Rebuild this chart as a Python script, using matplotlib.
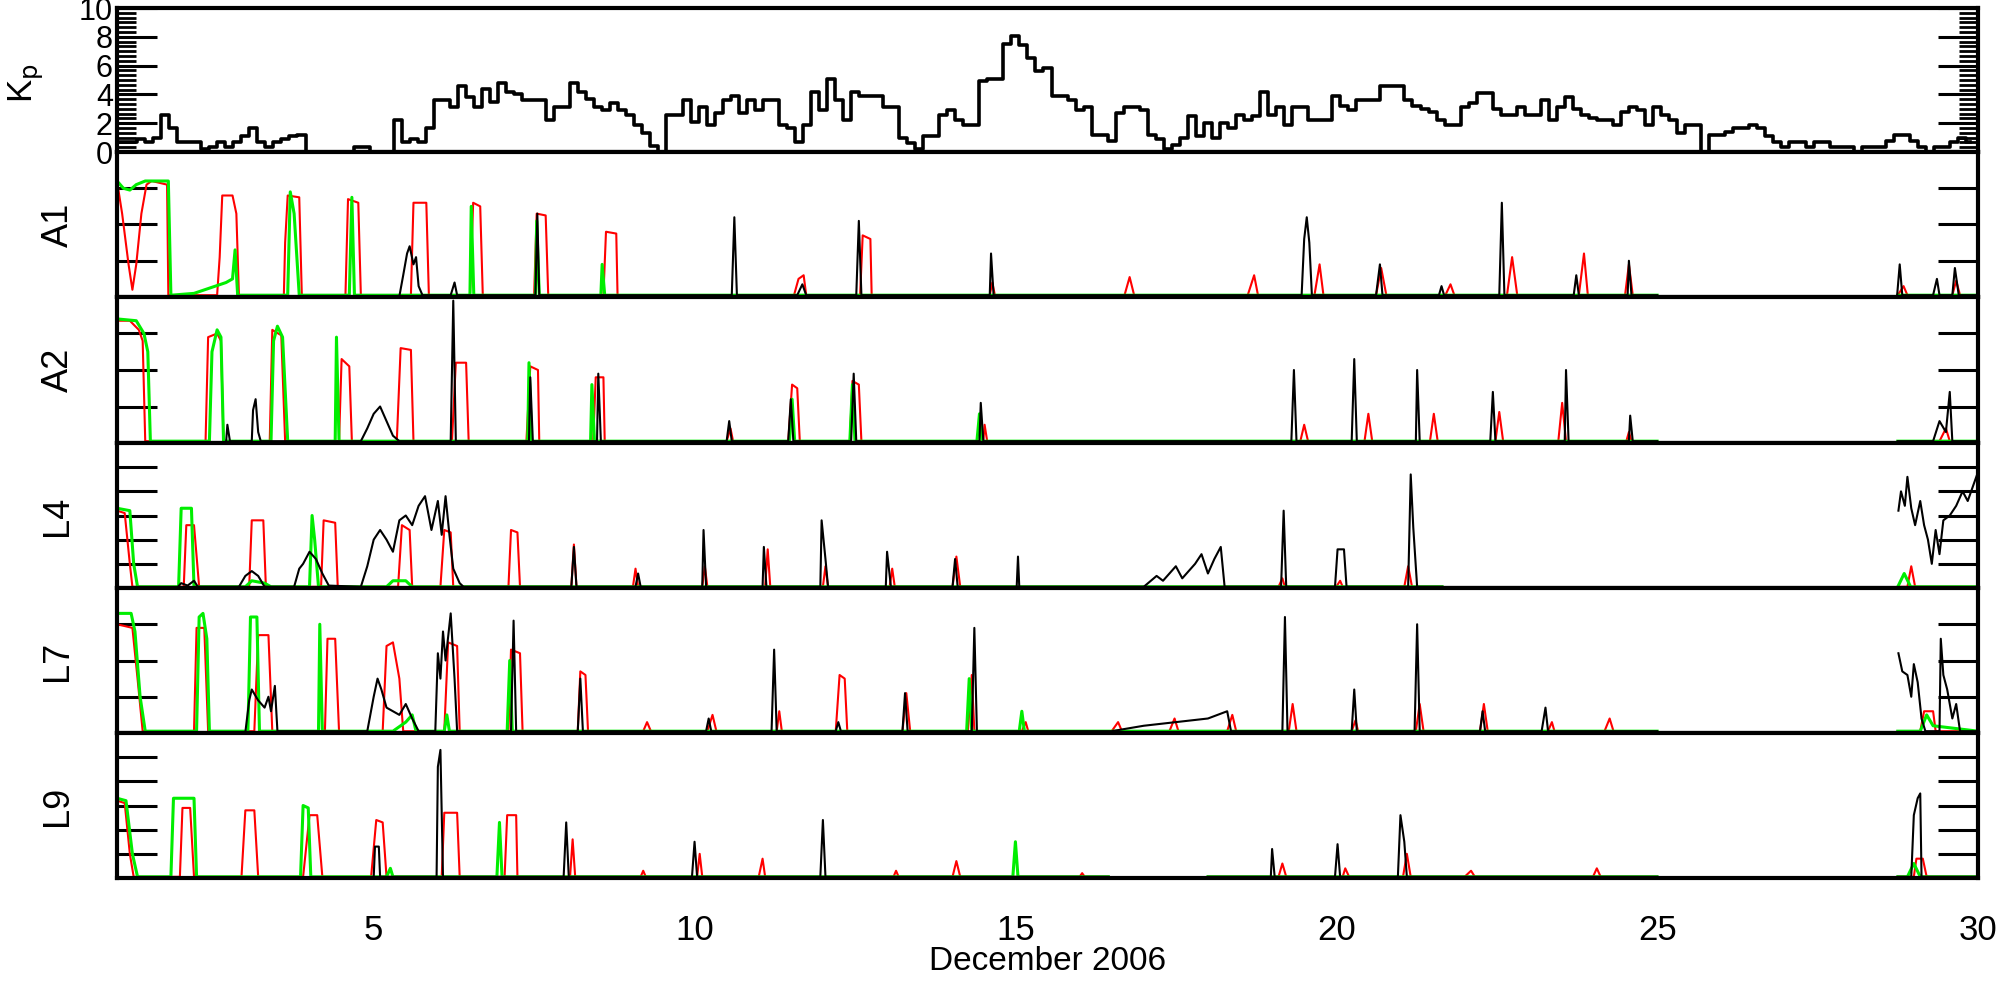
import numpy as np
import matplotlib.pyplot as plt
from matplotlib.ticker import MultipleLocator

plt.rcParams['font.family'] = ['Liberation Sans', 'DejaVu Sans']

nan = np.nan

# 3-hourly Kp, one row per day (1..29 December 2006)
kp = [
    0.67, 0.67, 0.67, 0.9, 0.67, 1.0, 2.56, 1.7,
    0.67, 0.67, 0.67, 0.2, 0.33, 0.67, 0.33, 0.67,
    1.1, 1.7, 0.67, 0.33, 0.67, 0.9, 1.1, 1.2,
    0, 0, 0, 0, 0, 0, 0.33, 0.33,
    0, 0, 0, 2.2, 0.67, 0.9, 0.67, 1.7,
    3.6, 3.6, 3.1, 4.6, 3.8, 3.1, 4.4, 3.5,
    4.8, 4.2, 4.0, 3.6, 3.6, 3.6, 2.2, 3.1,
    3.1, 4.8, 4.2, 3.7, 3.1, 2.9, 3.4, 2.9,
    2.6, 1.9, 1.35, 0.4, 0, 2.6, 2.6, 3.6,
    2.1, 3.1, 1.9, 2.7, 3.6, 3.9, 2.7, 3.6,
    2.9, 3.6, 3.6, 1.9, 1.7, 0.67, 1.9, 4.2,
    2.9, 5.1, 3.6, 2.2, 4.2, 3.9, 3.9, 3.9,
    3.1, 3.1, 1.0, 0.6, 0.2, 1.1, 1.1, 2.56,
    2.9, 2.2, 1.9, 1.9, 4.9, 5.1, 5.1, 7.5,
    8.06, 7.4, 6.5, 5.6, 5.8, 3.9, 3.9, 3.6,
    2.9, 3.1, 1.2, 1.2, 0.76, 2.7, 3.1, 3.1,
    2.9, 1.2, 0.9, 0.2, 0.5, 1.0, 2.5, 1.1,
    2.0, 1.0, 2.0, 1.7, 2.56, 2.2, 2.5, 4.2,
    2.56, 3.1, 1.9, 3.1, 3.1, 2.2, 2.2, 2.2,
    3.9, 3.2, 2.9, 3.6, 3.6, 3.6, 4.6, 4.6,
    4.6, 3.6, 3.2, 3.0, 2.8, 2.2, 1.9, 1.9,
    3.1, 3.4, 4.1, 4.1, 3.0, 2.56, 2.56, 3.1,
    2.56, 2.56, 3.6, 2.2, 3.1, 3.8, 3.0, 2.56,
    2.35, 2.2, 2.2, 1.9, 2.8, 3.1, 2.9, 1.9,
    3.1, 2.56, 2.2, 1.35, 1.9, 1.9, 0, 1.2,
    1.2, 1.4, 1.7, 1.7, 1.9, 1.7, 1.1, 0.67,
    0.33, 0.67, 0.67, 0.33, 0.67, 0.67, 0.33, 0.33,
    0.33, 0, 0.33, 0.33, 0.33, 0.76, 1.2, 1.2,
    0.76, 0.33, 0, 0.33, 0.33, 0.67, 1.0, 0.67,
]

# flux channels: [day, log-flux above background] pairs, nan = data gap
a1_red = [[1.00, 3.2], [1.08, 2.3], [1.18, 0.9], [1.24, 0.2], [1.30, 0.9], [1.38, 2.3], [1.46, 3.1], [1.54, 3.2],
          [1.78, 3.1], [1.80, 0.05], [2.56, 0.05], [2.60, 1.1], [2.64, 2.8], [2.80, 2.8], [2.86, 2.3], [2.90, 0.05],
          [3.60, 0.05], [3.62, 1.5], [3.66, 2.8], [3.84, 2.75], [3.88, 0.05], [4.56, 0.05], [4.60, 2.7], [4.76, 2.6],
          [4.80, 0.05], [5.58, 0.05], [5.62, 2.6], [5.82, 2.6], [5.86, 0.05], [6.50, 0.05], [6.55, 2.6], [6.66, 2.5],
          [6.70, 0.05], [7.50, 0.05], [7.54, 2.3], [7.68, 2.25], [7.72, 0.05], [8.58, 0.05], [8.62, 1.8], [8.78, 1.75],
          [8.80, 0.05], [11.55, 0.05], [11.62, 0.5], [11.70, 0.6], [11.74, 0.05], [12.58, 0.05], [12.62, 1.7],
          [12.74, 1.6], [12.76, 0.05], [14.60, 0.05], [14.64, 0.4], [14.68, 0.05], [16.70, 0.05], [16.78, 0.55],
          [16.85, 0.05], [18.62, 0.05], [18.72, 0.6], [18.78, 0.05], [19.66, 0.05], [19.74, 0.9], [19.80, 0.05],
          [20.62, 0.05], [20.70, 0.8], [20.78, 0.05], [21.70, 0.05], [21.78, 0.35], [21.84, 0.05], [22.66, 0.05],
          [22.74, 1.1], [22.82, 0.05], [23.78, 0.05], [23.86, 1.2], [23.92, 0.05], [24.50, 0.05], [24.56, 0.9],
          [24.62, 0.05], [25.0, 0.05], [25.0, nan], [28.75, 0.05], [28.84, 0.3], [28.90, 0.05], [29.60, 0.05],
          [29.66, 0.45], [29.72, 0.05], [30.0, 0.05]]
a1_green = [[1.00, 3.2], [1.10, 3.0], [1.20, 2.95], [1.30, 3.1], [1.44, 3.2], [1.80, 3.2], [1.84, 0.05],
            [2.20, 0.1], [2.70, 0.4], [2.80, 0.5], [2.84, 1.3], [2.88, 0.05], [3.66, 0.05], [3.70, 2.9],
            [3.76, 2.3], [3.84, 0.05], [4.62, 0.05], [4.66, 2.75], [4.70, 0.05], [6.50, 0.05], [6.52, 2.5],
            [6.56, 0.05], [7.52, 0.05], [7.54, 2.1], [7.58, 0.05], [8.54, 0.05], [8.56, 0.9], [8.60, 0.05],
            [25.0, 0.05], [25.0, nan], [28.75, 0.05], [30.0, 0.05]]
a1_black = [[1.0, 0.02], [5.40, 0.02], [5.46, 0.6], [5.52, 1.2], [5.56, 1.4], [5.62, 0.9], [5.66, 1.1], [5.70, 0.3],
            [5.76, 0.05], [6.20, 0.05], [6.26, 0.4], [6.30, 0.05], [7.52, 0.05], [7.55, 2.3], [7.58, 0.05],
            [10.58, 0.05], [10.62, 2.2], [10.66, 0.05], [11.60, 0.05], [11.68, 0.35], [11.74, 0.05], [12.52, 0.05],
            [12.56, 2.1], [12.60, 0.05], [14.60, 0.05], [14.62, 1.2], [14.66, 0.05], [19.46, 0.05], [19.50, 1.6],
            [19.54, 2.2], [19.58, 1.5], [19.62, 0.05], [20.62, 0.05], [20.68, 0.9], [20.72, 0.05], [21.60, 0.05],
            [21.64, 0.3], [21.68, 0.05], [22.54, 0.05], [22.58, 2.6], [22.62, 0.05], [23.70, 0.05], [23.74, 0.6],
            [23.78, 0.05], [24.54, 0.05], [24.56, 1.0], [24.60, 0.05], [25.0, 0.05], [25.0, nan], [28.74, 0.05],
            [28.78, 0.9], [28.82, 0.05], [29.30, 0.05], [29.36, 0.5], [29.40, 0.05], [29.60, 0.05], [29.64, 0.8],
            [29.70, 0.05], [30.0, 0.05]]

a2_red = [[1.0, 3.35], [1.20, 3.35], [1.34, 3.1], [1.40, 2.8], [1.44, 0.05], [2.38, 0.05], [2.42, 2.9], [2.56, 3.0],
          [2.62, 2.8], [2.66, 0.05], [3.38, 0.05], [3.42, 3.1], [3.56, 2.95], [3.62, 0.05], [4.46, 0.05], [4.50, 2.3],
          [4.62, 2.1], [4.66, 0.05], [5.36, 0.05], [5.42, 2.6], [5.58, 2.55], [5.62, 0.05], [6.22, 0.05], [6.28, 2.2],
          [6.44, 2.2], [6.48, 0.05], [7.38, 0.05], [7.44, 2.1], [7.56, 2.0], [7.58, 0.05], [8.42, 0.05], [8.46, 1.8],
          [8.58, 1.8], [8.60, 0.05], [10.50, 0.05], [10.56, 0.4], [10.60, 0.05], [11.46, 0.05], [11.52, 1.6],
          [11.60, 1.5], [11.64, 0.05], [12.42, 0.05], [12.46, 1.7], [12.56, 1.6], [12.60, 0.05], [14.50, 0.05],
          [14.52, 0.5], [14.56, 0.05], [19.44, 0.05], [19.50, 0.5], [19.56, 0.05], [20.44, 0.05], [20.50, 0.8],
          [20.56, 0.05], [21.46, 0.05], [21.52, 0.8], [21.58, 0.05], [22.48, 0.05], [22.54, 0.85], [22.60, 0.05],
          [23.46, 0.05], [23.52, 1.1], [23.58, 0.05], [24.52, 0.05], [24.56, 0.3], [24.60, 0.05], [25.0, 0.05],
          [25.0, nan], [28.75, 0.05], [29.40, 0.05], [29.50, 0.4], [29.56, 0.05], [30.0, 0.05]]
a2_green = [[1.0, 3.4], [1.30, 3.35], [1.42, 3.0], [1.48, 2.5], [1.52, 0.05], [2.44, 0.05], [2.48, 2.5], [2.56, 3.1],
            [2.62, 2.9], [2.66, 0.05], [3.40, 0.05], [3.44, 2.8], [3.50, 3.2], [3.58, 2.9], [3.66, 0.05],
            [4.40, 0.05], [4.42, 2.9], [4.46, 0.05], [7.40, 0.05], [7.42, 2.2], [7.46, 0.05], [8.38, 0.05],
            [8.40, 1.6], [8.44, 0.05], [11.48, 0.05], [11.52, 1.2], [11.56, 0.05], [12.42, 0.05], [12.46, 1.6],
            [12.50, 0.05], [14.40, 0.05], [14.44, 0.8], [14.48, 0.05], [25.0, 0.05], [25.0, nan], [28.75, 0.05],
            [30.0, 0.05]]
a2_black = [[1.0, 0.02], [2.70, 0.02], [2.72, 0.5], [2.76, 0.05], [3.10, 0.05], [3.12, 0.9], [3.16, 1.2], [3.20, 0.3],
            [3.24, 0.05], [4.80, 0.05], [4.90, 0.4], [5.00, 0.8], [5.10, 1.0], [5.20, 0.6], [5.30, 0.2], [5.40, 0.05],
            [6.20, 0.05], [6.24, 3.9], [6.28, 0.05], [7.42, 0.05], [7.44, 1.8], [7.48, 0.05], [8.48, 0.05],
            [8.50, 1.9], [8.54, 0.05], [10.50, 0.05], [10.54, 0.6], [10.58, 0.05], [11.46, 0.05], [11.50, 1.2],
            [11.54, 0.05], [12.44, 0.05], [12.48, 1.9], [12.52, 0.05], [14.44, 0.05], [14.46, 1.1], [14.50, 0.05],
            [19.30, 0.05], [19.34, 2.0], [19.38, 0.05], [20.24, 0.05], [20.28, 2.3], [20.32, 0.05], [21.24, 0.05],
            [21.26, 2.0], [21.30, 0.05], [22.40, 0.05], [22.44, 1.4], [22.48, 0.05], [23.56, 0.05], [23.58, 2.0],
            [23.62, 0.05], [24.56, 0.05], [24.58, 0.75], [24.62, 0.05], [25.0, 0.05], [25.0, nan], [28.75, 0.05],
            [29.30, 0.05], [29.40, 0.6], [29.50, 0.3], [29.56, 1.4], [29.60, 0.05], [30.0, 0.05]]

l4_red = [[1.0, 3.2], [1.12, 3.1], [1.20, 1.0], [1.24, 0.05], [2.04, 0.05], [2.08, 2.6], [2.20, 2.6], [2.28, 0.05],
          [3.06, 0.05], [3.10, 2.8], [3.28, 2.8], [3.32, 0.05], [4.18, 0.05], [4.22, 2.8], [4.40, 2.7], [4.44, 0.05],
          [5.38, 0.05], [5.44, 2.6], [5.56, 2.4], [5.60, 0.05], [6.04, 0.05], [6.10, 2.4], [6.20, 2.3], [6.24, 0.05],
          [7.10, 0.05], [7.14, 2.4], [7.24, 2.3], [7.28, 0.05], [8.08, 0.05], [8.12, 1.8], [8.16, 0.05], [9.04, 0.05],
          [9.08, 0.8], [9.12, 0.05], [10.12, 0.05], [10.16, 0.9], [10.20, 0.05], [11.10, 0.05], [11.14, 1.6],
          [11.18, 0.05], [12.00, 0.05], [12.04, 0.9], [12.08, 0.05], [13.04, 0.05], [13.08, 0.8], [13.12, 0.05],
          [14.02, 0.05], [14.08, 1.3], [14.14, 0.05], [19.10, 0.05], [19.16, 0.4], [19.20, 0.05], [20.00, 0.05],
          [20.06, 0.3], [20.10, 0.05], [21.06, 0.05], [21.12, 0.9], [21.18, 0.05], [21.65, 0.05], [21.65, nan],
          [28.75, 0.05], [28.90, 0.05], [28.96, 0.9], [29.02, 0.05], [30.0, 0.05]]
l4_green = [[1.0, 3.3], [1.20, 3.2], [1.26, 1.0], [1.32, 0.05], [1.96, 0.05], [2.00, 3.3], [2.16, 3.3], [2.20, 0.05],
            [3.00, 0.05], [3.10, 0.3], [3.30, 0.2], [3.40, 0.05], [4.00, 0.05], [4.04, 3.0], [4.08, 2.0],
            [4.14, 0.05], [5.20, 0.05], [5.30, 0.3], [5.50, 0.3], [5.60, 0.05], [21.65, 0.05], [21.65, nan],
            [28.75, 0.05], [28.85, 0.6], [28.95, 0.05], [30.0, 0.05]]
l4_black = [[1.0, 0.02], [1.94, 0.02], [2.00, 0.2], [2.10, 0.1], [2.20, 0.3], [2.26, 0.05], [2.90, 0.05], [3.00, 0.5],
            [3.10, 0.7], [3.20, 0.5], [3.30, 0.05], [3.76, 0.05], [3.84, 0.8], [3.90, 1.0], [4.00, 1.5], [4.10, 1.2],
            [4.20, 0.6], [4.30, 0.1], [4.80, 0.05], [4.90, 0.9], [5.00, 2.0], [5.10, 2.4], [5.20, 2.0], [5.30, 1.5],
            [5.40, 2.8], [5.50, 3.0], [5.60, 2.6], [5.70, 3.4], [5.80, 3.8], [5.90, 2.4], [6.00, 3.6], [6.06, 2.2],
            [6.12, 3.8], [6.18, 2.2], [6.24, 0.8], [6.34, 0.2], [6.40, 0.05], [8.08, 0.05], [8.12, 1.7], [8.16, 0.05],
            [9.08, 0.05], [9.12, 0.6], [9.16, 0.05], [10.12, 0.05], [10.14, 2.4], [10.18, 0.05], [11.06, 0.05],
            [11.08, 1.7], [11.12, 0.05], [11.96, 0.05], [11.98, 2.8], [12.04, 1.2], [12.08, 0.05], [12.98, 0.05],
            [13.00, 1.5], [13.06, 0.05], [14.02, 0.05], [14.06, 1.2], [14.10, 0.05], [15.02, 0.05], [15.04, 1.3],
            [15.06, 0.05], [17.00, 0.05], [17.20, 0.5], [17.30, 0.3], [17.50, 0.9], [17.60, 0.4], [17.80, 1.0],
            [17.90, 1.4], [18.00, 0.6], [18.10, 1.2], [18.20, 1.7], [18.26, 0.05], [19.14, 0.05], [19.18, 3.2],
            [19.22, 0.05], [19.98, 0.05], [20.02, 1.6], [20.12, 1.6], [20.16, 0.05], [21.12, 0.05], [21.16, 4.7],
            [21.20, 2.5], [21.26, 0.05], [21.65, 0.05], [21.65, nan], [28.76, 3.2], [28.80, 4.0], [28.86, 3.4],
            [28.90, 4.6], [28.96, 3.3], [29.02, 2.6], [29.10, 3.6], [29.16, 2.6], [29.22, 2.0], [29.28, 1.0],
            [29.34, 2.4], [29.40, 1.4], [29.46, 2.8], [29.56, 3.0], [29.66, 3.4], [29.76, 4.0], [29.84, 3.6],
            [29.92, 4.2], [30.0, 4.8]]

l7_red = [[1.0, 3.0], [1.24, 2.9], [1.32, 1.5], [1.40, 0.05], [2.20, 0.05], [2.24, 2.9], [2.36, 2.9], [2.42, 0.05],
          [3.14, 0.05], [3.20, 2.7], [3.36, 2.7], [3.42, 0.05], [4.24, 0.05], [4.28, 2.6], [4.40, 2.6], [4.46, 0.05],
          [5.14, 0.05], [5.20, 2.4], [5.30, 2.5], [5.40, 1.5], [5.46, 0.05], [6.10, 0.05], [6.16, 2.5], [6.30, 2.4],
          [6.34, 0.05], [7.10, 0.05], [7.14, 2.3], [7.28, 2.2], [7.32, 0.05], [8.18, 0.05], [8.22, 1.7], [8.30, 1.6],
          [8.34, 0.05], [9.20, 0.05], [9.26, 0.3], [9.32, 0.05], [10.20, 0.05], [10.28, 0.5], [10.34, 0.05],
          [11.28, 0.05], [11.32, 0.6], [11.36, 0.05], [12.20, 0.05], [12.26, 1.6], [12.34, 1.5], [12.38, 0.05],
          [13.24, 0.05], [13.30, 1.1], [13.36, 0.05], [14.26, 0.05], [14.32, 1.6], [14.36, 0.05], [15.10, 0.05],
          [15.16, 0.3], [15.20, 0.05], [16.50, 0.05], [16.60, 0.3], [16.66, 0.05], [17.40, 0.05], [17.48, 0.4],
          [17.54, 0.05], [18.30, 0.05], [18.38, 0.5], [18.44, 0.05], [19.26, 0.05], [19.32, 0.8], [19.38, 0.05],
          [20.24, 0.05], [20.30, 0.35], [20.34, 0.05], [21.24, 0.05], [21.30, 0.8], [21.36, 0.05], [22.24, 0.05],
          [22.30, 0.8], [22.36, 0.05], [23.30, 0.05], [23.36, 0.3], [23.40, 0.05], [24.18, 0.05], [24.26, 0.4],
          [24.32, 0.05], [25.0, 0.05], [25.0, nan], [28.75, 0.05], [29.10, 0.05], [29.16, 0.6], [29.30, 0.6],
          [29.34, 0.05], [30.0, 0.05]]
l7_green = [[1.0, 3.3], [1.22, 3.3], [1.28, 2.8], [1.36, 1.0], [1.44, 0.05], [2.24, 0.05], [2.28, 3.2], [2.34, 3.3],
            [2.40, 2.6], [2.44, 0.05], [3.04, 0.05], [3.08, 3.2], [3.18, 3.2], [3.22, 0.05], [4.14, 0.05],
            [4.16, 3.0], [4.20, 0.05], [5.30, 0.05], [5.50, 0.3], [5.60, 0.5], [5.66, 0.05], [6.10, 0.05],
            [6.14, 0.5], [6.18, 0.05], [7.08, 0.05], [7.12, 2.0], [7.16, 0.05], [14.24, 0.05], [14.28, 1.5],
            [14.32, 0.05], [15.06, 0.05], [15.10, 0.6], [15.14, 0.05], [25.0, 0.05], [25.0, nan], [28.75, 0.05],
            [29.10, 0.05], [29.20, 0.5], [29.30, 0.2], [30.0, 0.05]]
l7_black = [[1.0, 0.02], [3.00, 0.02], [3.06, 0.9], [3.10, 1.2], [3.20, 0.9], [3.30, 0.7], [3.36, 1.0], [3.40, 0.6],
            [3.46, 1.3], [3.50, 0.05], [4.90, 0.05], [5.00, 1.0], [5.06, 1.5], [5.12, 1.2], [5.20, 0.7], [5.40, 0.5],
            [5.50, 0.8], [5.60, 0.4], [5.70, 0.05], [5.96, 0.05], [6.00, 2.2], [6.04, 1.5], [6.08, 2.8], [6.12, 2.0],
            [6.20, 3.3], [6.26, 1.5], [6.30, 0.05], [7.14, 0.05], [7.18, 3.1], [7.22, 0.05], [8.18, 0.05],
            [8.22, 1.5], [8.26, 0.05], [10.18, 0.05], [10.22, 0.4], [10.26, 0.05], [11.20, 0.05], [11.24, 2.3],
            [11.28, 0.05], [12.20, 0.05], [12.24, 0.3], [12.28, 0.05], [13.24, 0.05], [13.28, 1.1], [13.32, 0.05],
            [14.32, 0.05], [14.36, 2.9], [14.40, 0.05], [16.50, 0.05], [17.00, 0.2], [17.50, 0.3], [18.00, 0.4],
            [18.30, 0.6], [18.36, 0.05], [19.16, 0.05], [19.20, 3.2], [19.24, 0.05], [20.24, 0.05], [20.28, 1.2],
            [20.32, 0.05], [21.22, 0.05], [21.26, 3.0], [21.30, 0.05], [22.24, 0.05], [22.28, 0.6], [22.32, 0.05],
            [23.20, 0.05], [23.26, 0.7], [23.30, 0.05], [25.0, 0.05], [25.0, nan], [28.76, 2.2], [28.82, 1.7],
            [28.90, 1.6], [28.96, 1.0], [29.00, 1.9], [29.06, 1.4], [29.12, 0.4], [29.18, 0.05], [29.40, 0.05],
            [29.42, 2.6], [29.46, 1.6], [29.52, 1.2], [29.60, 0.4], [29.66, 0.8], [29.72, 0.05], [30.0, 0.05]]

l9_red = [[1.0, 3.2], [1.12, 3.1], [1.20, 1.0], [1.26, 0.05], [1.98, 0.05], [2.02, 2.9], [2.14, 2.9], [2.20, 0.05],
          [2.94, 0.05], [3.00, 2.8], [3.14, 2.8], [3.20, 0.05], [3.90, 0.05], [4.00, 2.6], [4.12, 2.6], [4.20, 0.05],
          [4.96, 0.05], [5.04, 2.4], [5.14, 2.3], [5.20, 0.05], [6.06, 0.05], [6.10, 2.7], [6.30, 2.7], [6.34, 0.05],
          [7.04, 0.05], [7.08, 2.6], [7.22, 2.6], [7.24, 0.05], [8.06, 0.05], [8.10, 1.6], [8.14, 0.05], [9.16, 0.05],
          [9.20, 0.3], [9.24, 0.05], [10.04, 0.05], [10.08, 1.0], [10.12, 0.05], [11.00, 0.05], [11.06, 0.8],
          [11.10, 0.05], [13.10, 0.05], [13.14, 0.3], [13.18, 0.05], [14.02, 0.05], [14.08, 0.7], [14.14, 0.05],
          [16.00, 0.05], [16.04, 0.2], [16.08, 0.05], [16.45, 0.05], [16.45, nan], [18.00, 0.05], [19.10, 0.05],
          [19.16, 0.6], [19.22, 0.05], [20.10, 0.05], [20.14, 0.4], [20.20, 0.05], [21.04, 0.05], [21.10, 1.0],
          [21.16, 0.05], [22.00, 0.05], [22.10, 0.3], [22.16, 0.05], [24.00, 0.05], [24.06, 0.4], [24.12, 0.05],
          [25.0, 0.05], [25.0, nan], [28.75, 0.05], [29.00, 0.05], [29.04, 0.8], [29.14, 0.8], [29.20, 0.05],
          [30.0, 0.05]]
l9_green = [[1.0, 3.3], [1.14, 3.2], [1.24, 1.0], [1.32, 0.05], [1.84, 0.05], [1.88, 3.3], [2.20, 3.3], [2.24, 0.05],
            [3.86, 0.05], [3.90, 3.0], [3.98, 2.9], [4.02, 0.05], [5.20, 0.05], [5.26, 0.4], [5.30, 0.05],
            [6.92, 0.05], [6.96, 2.3], [7.00, 0.05], [14.96, 0.05], [15.00, 1.5], [15.04, 0.05], [16.45, 0.05],
            [16.45, nan], [18.00, 0.05], [25.0, 0.05], [25.0, nan], [28.75, 0.05], [28.90, 0.05], [29.00, 0.6],
            [29.10, 0.05], [30.0, 0.05]]
l9_black = [[1.0, 0.02], [5.00, 0.02], [5.02, 1.3], [5.08, 1.3], [5.10, 0.05], [5.98, 0.05], [6.00, 4.6], [6.04, 5.3],
            [6.08, 0.05], [7.96, 0.05], [8.00, 2.3], [8.04, 0.05], [9.96, 0.05], [10.00, 1.5], [10.04, 0.05],
            [11.96, 0.05], [12.00, 2.4], [12.04, 0.05], [16.45, 0.05], [16.45, nan], [18.00, 0.05], [18.98, 0.05],
            [19.00, 1.2], [19.04, 0.05], [19.98, 0.05], [20.02, 1.4], [20.06, 0.05], [20.96, 0.05], [21.00, 2.6],
            [21.06, 1.5], [21.10, 0.05], [25.0, 0.05], [25.0, nan], [28.75, 0.05], [28.96, 0.05], [29.00, 2.6],
            [29.06, 3.3], [29.10, 3.5], [29.12, 0.05], [30.0, 0.05]]

panel_names = ['A1', 'A2', 'L4', 'L7', 'L9']
panel_decades = [4, 4, 6, 4, 6]
panel_series = [(a1_red, a1_green, a1_black), (a2_red, a2_green, a2_black), (l4_red, l4_green, l4_black),
                (l7_red, l7_green, l7_black), (l9_red, l9_green, l9_black)]
day_ticks = [5, 10, 15, 20, 25, 30]

W, H = 2013, 984
fig = plt.figure(figsize=(W / 100, H / 100), dpi=100)

left, right = 117, 1978
edges = [8, 152, 297, 443, 588, 733, 878]   # panel borders in pixels from the top


def make_axes(i):
    top, bot = edges[i], edges[i + 1]
    ax = fig.add_axes([left / W, 1 - bot / H, (right - left) / W, (bot - top) / H])
    for s in ax.spines.values():
        s.set_linewidth(3)
    ax.set_xlim(1, 30)
    ax.tick_params(axis='x', which='both', bottom=False, top=False, labelbottom=False)
    ax.tick_params(axis='y', which='major', direction='in', length=29, width=2.2,
                   left=True, right=True, labelleft=False)
    return ax


# Kp panel
ax = make_axes(0)
kp_t = 1 + np.arange(len(kp)) / 8.0
ax.plot(kp_t, kp, drawstyle='steps-mid', color='black', lw=2.6)
ax.set_ylim(0, 10)
ax.set_yticks([0, 2, 4, 6, 8, 10])
ax.yaxis.set_minor_locator(MultipleLocator(1 / 3))
ax.tick_params(axis='y', which='major', labelleft=True, labelsize=22, pad=3)
ax.tick_params(axis='y', which='minor', direction='in', length=14, width=2, left=True, right=True)
fig.text(26 / W, 1 - 83 / H, r'K$_\mathrm{p}$', rotation=90, ha='center', va='center', fontsize=25)

colors = ['#ff0000', '#00ee00', '#000000']
widths = [1.5, 2.2, 1.5]
for i, name in enumerate(panel_names):
    ax = make_axes(i + 1)
    for data, c, w in zip(panel_series[i], colors, widths):
        arr = np.array(data, dtype=float)
        ax.plot(arr[:, 0], arr[:, 1], color=c, lw=w)
    ax.set_ylim(0, panel_decades[i])
    ax.set_yticks(range(1, panel_decades[i]))
    mid = (edges[i + 1] + edges[i + 2]) / 2
    fig.text(58 / W, 1 - mid / H, name, rotation=90, ha='center', va='center', fontsize=26)

ax.set_xticks(day_ticks)
ax.tick_params(axis='x', which='major', bottom=True, labelbottom=True, length=0, pad=26, labelsize=25)
fig.text((left + right) / 2 / W, 1 - 961 / H, 'December 2006', ha='center', va='center', fontsize=24)

fig.savefig('out.png', dpi=100)
